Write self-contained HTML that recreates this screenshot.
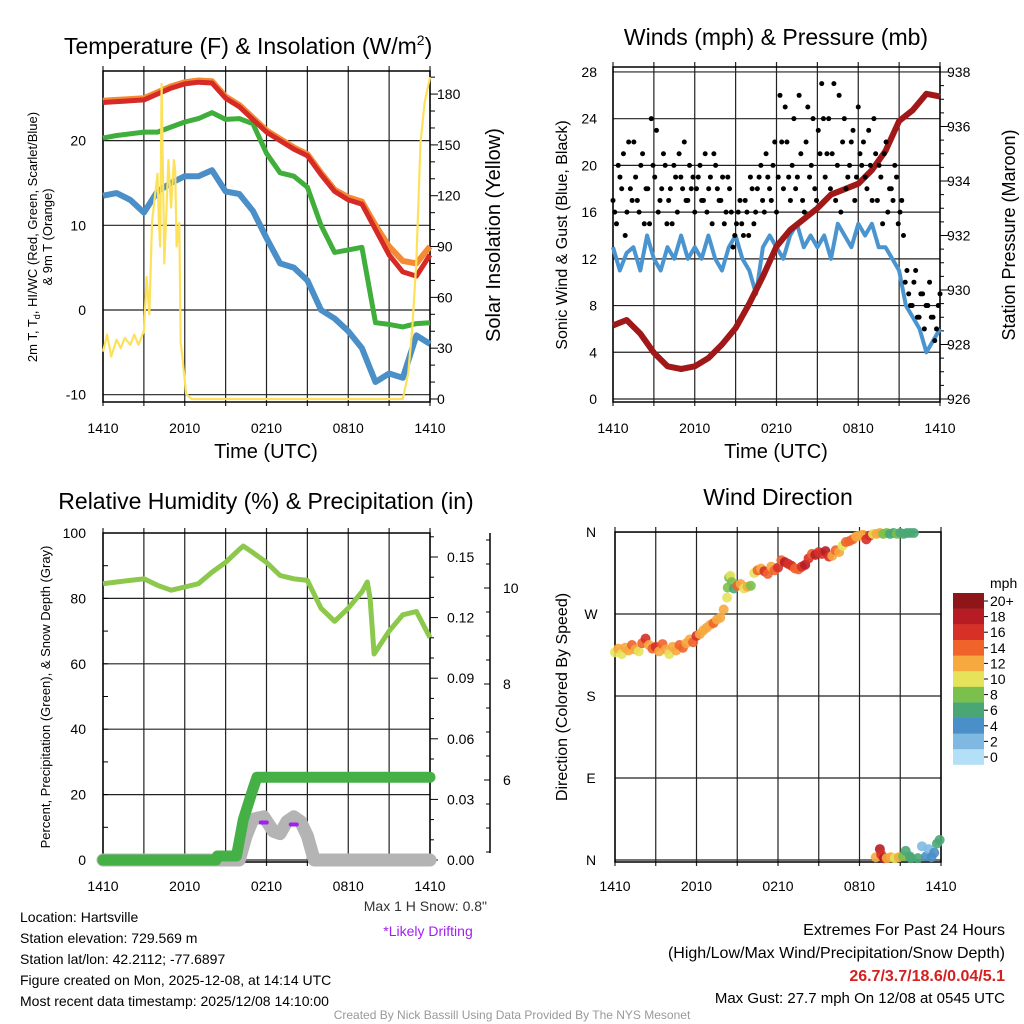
<!DOCTYPE html>
<html><head><meta charset="utf-8"><style>
body{margin:0;background:#fff}
svg{display:block;font-family:"Liberation Sans",sans-serif}
</style></head><body>
<svg id="c" width="1024" height="1024" viewBox="0 0 1024 1024"></svg>
<script>
// ---------- DATA ----------
const hours=[0,1,2,3,4,5,6,7,8,9,10,11,12,13,14,15,16,17,18,19,20,21,22,23,24];
const tempRed=[24.5,24.6,24.7,24.8,25.5,26.2,26.7,26.9,26.8,25,24,22.5,21,20,19,18.2,16,14,13,12.5,9.5,6.5,4.5,4,6.5];
const tempOrange=[24.7,24.8,24.9,25,25.7,26.4,26.9,27.1,27,25.2,24.2,22.7,21.2,20.2,19.2,18.4,16.2,14.2,13.3,12.8,10,7.5,5.8,5.5,7.5];
const hiwcGreen=[20.3,20.6,20.8,21,21,21.6,22.2,22.6,23.3,22.5,22.6,22,18.5,16.2,15.8,14.5,10,6.8,7.1,7.4,-1.5,-1.7,-2,-1.6,-1.5];
const dewBlue=[13.5,13.8,13,11.5,14,15,15.8,15.8,16.5,14,13.7,11.7,8.5,5.5,5,3.5,0,-1,-2.5,-4.5,-8.5,-7.5,-8,-3,-4];
const solarT=[0,0.3,0.6,1,1.3,1.6,2,2.3,2.6,3,3.2,3.4,3.6,4,4.1,4.2,4.3,4.5,4.8,5,5.2,5.3,5.4,5.6,5.7,5.8,6.1,6.5,22,22.4,22.7,23,23.3,23.6,24];
const solarV=[28,38,25,35,30,36,32,38,32,40,72,50,105,133,104,90,186,80,141,113,141,135,90,104,33,27,3,0,0,15,42,82,151,175,190];
const windT=[0,0.5,1,1.5,2,2.5,3,3.5,4,4.5,5,5.5,6,6.5,7,7.5,8,8.5,9,9.5,10,10.5,11,11.5,12,12.5,13,13.5,14,14.5,15,15.5,16,16.5,17,17.5,18,18.5,19,19.5,20,20.5,21,21.5,22,22.5,23,23.5,24];
const windV=[13,11,12.5,13,11,14,12,11,13,12,14,12,13,12,14,12,11,13,14,12,11,9,13,14,13,12,14,15,13,14,13,14,12,15,14,13,15,14,15,13,13,12,11,8,7,6,4,5,6];
const gustV=[17,15,19,21,16,18,22,17,20,15,18,24,19,16,18,20,17,15,19,21,18,17,20,19,18,20,17,16,19,21,18,17,15,19,16,14,16,15,17,14,18,16,19,17,21,18,20,16,26,18,22,17,24,19,21,16,25,20,18,23,27,19,24,21,17,26,22,18,20,23,19,21,22,18,20,24,17,19,21,16,18,20,15,17,10,9,8,11,7,9,8,10,7,6,9];
const gustV2=[16,20,18,14,22,17,19,16,21,18,15,20,23,17,21,15,18,20,16,19,22,17,18,16,19,17,21,18,15,20,17,19,16,18,13,15,17,14,16,19,15,18,20,16,19,17,22,19,22,25,19,20,18,26,17,22,19,24,17,21,24,21,18,27,20,16,24,19,22,17,25,20,19,23,17,21,20,15,22,18,17,19,16,14,11,8,10,7,9,6,8,7,5,8];
const presV=[928.7,928.9,928.4,927.7,927.2,927.1,927.2,927.5,928,928.6,929.5,930.5,931.6,932.2,932.6,933,933.5,933.7,933.9,934.4,935.1,936.2,936.6,937.2,937.1];
const rhT=[0,1,2,3,4,5,6,7,8,9,10,10.3,11,12,13,14,15,16,17,18,19,19.4,19.6,19.9,21,22,23,24];
const rhV=[84.5,85,85.5,86,84,82.5,83.5,84.5,88,91,95,96,94,91,87,86,85.5,77,73,77,82,85,80,63,70,75,76,68];
const precipT=[0,8.3,8.4,9.8,10.3,11.0,11.3,24];
const precipV=[0,0,0.002,0.002,0.02,0.035,0.041,0.041];
const snowT=[0,10,10.5,11,11.8,12.5,13,13.5,14,14.5,15,15.5,24];
const snowV=[0,0,0.5,0.85,0.9,0.6,0.55,0.8,0.9,0.8,0.5,0,0];
const driftT=[11.8,14];
const driftV=[0.78,0.74];
const dirT=[0,0.25,0.5,0.75,1,1.25,1.5,1.75,2,2.25,2.5,2.75,3,3.25,3.5,3.75,4,4.25,4.5,4.75,5,5.25,5.5,5.75,6,6.25,6.5,6.75,7,7.25,7.5,7.75,8,8.25,8.3,8.4,8.5,8.6,8.75,9,9.25,9.5,9.75,10,10.25,10.5,10.75,11,11.25,11.5,11.75,12,12.25,12.5,12.75,13,13.25,13.5,13.75,14,14.25,14.5,14.75,15,15.25,15.5,15.75,16,16.25,16.5,16.75,17,17.25,17.5,17.75,18,18.25,18.5,18.75,19,19.25,19.5,19.75,20,20.25,20.5,20.75,21,21.25,21.5,21.75,22,19.2,19.5,19.6,19.8,20,20.3,20.6,20.9,21.2,21.4,21.7,21.8,22.3,22.6,22.9,23.1,23.3,23.5,23.7,23.9];
const dirV=[228,232,226,233,230,236,231,229,238,243,236,232,234,229,237,231,226,234,230,236,233,238,242,239,246,248,252,255,258,260,264,266,275,288,299,310,312,305,298,301,303,298,300,301,315,318,320,317,314,322,318,321,329,327,325,323,320,319,322,324,331,336,335,338,336,339,333,334,340,338,345,349,350,352,355,356,357,352,356,358,358,359,358,359,358,359,358,359,358,359,359,359,3,12,6,2,2,3,2,3,4,10,4,2,2,15,4,12,3,8,18,22];
const dirS=[10,12,11,13,12,14,12,10,15,16,13,14,16,12,15,12,11,12,13,14,15,12,13,14,16,12,12,13,12,14,12,12,12,10,8,9,10,9,7,14,12,10,12,9,11,15,12,16,15,12,14,17,14,18,16,17,15,14,16,19,17,15,18,17,16,18,16,12,14,13,11,15,14,15,12,13,12,17,16,11,12,12,9,8,7,7,8,6,6,6,6,7,13,18,16,18,12,12,11,13,8,7,6,6,6,3,4,3,4,4,6,6];
const cbColors=["#b3e0f7","#7fb9e2","#4a8fc7","#4aa775","#7bc04c","#e6e25a","#f6a93f","#f0632b","#d63027","#b71c25","#8e1518"];
const cbLabels=["0","2","4","6","8","10","12","14","16","18","20+"];
const xLabels=["1410","2010","0210","0810","1410"];
const dirLabels=["N","E","S","W","N"];

// ---------- HELPERS ----------
const svg=document.getElementById('c');
const NS='http://www.w3.org/2000/svg';
function el(tag,attrs,parent){const e=document.createElementNS(NS,tag);for(const k in attrs)e.setAttribute(k,attrs[k]);(parent||svg).appendChild(e);return e;}
function txt(s,x,y,size,anchor,parent,extra){const t=el('text',Object.assign({x:x,y:y,'font-size':size,'text-anchor':anchor||'middle',fill:'#000'},extra||{}),parent);t.textContent=s;return t;}
function poly(xs,ys,fx,fy){return xs.map((v,i)=>fx(v).toFixed(1)+','+fy(ys[i]).toFixed(1)).join(' ');}
function grid(g,x0,x1,top,bot,fx,hy){
  for(let h=0;h<=24;h+=3){el('line',{x1:fx(h),x2:fx(h),y1:top-5,y2:bot+4,stroke:'#222','stroke-width':1.2},g);}
  hy.forEach(y=>el('line',{x1:x0,x2:x1,y1:y,y2:y,stroke:'#222','stroke-width':1.2},g));
  el('rect',{x:x0,y:top,width:x1-x0,height:bot-top,fill:'none',stroke:'#000','stroke-width':1.5},g);
}

// ---------- PANEL 1: Temperature ----------
{
const g=el('g',{});  
const x0=103,x1=430,top=71,bot=402;
const fx=h=>x0+h*(x1-x0)/24, fy=v=>310-v*8.47, fs=v=>399-v*1.694;
grid(g,x0,x1,top,bot,fx,[20,10,0,-10].map(fy));
[20,10,0,-10].forEach(v=>{const t=txt(String(v),86,fy(v)+5,14,'end',g);});
for(let v=0;v<=190;v+=10){el('line',{x1:x1,x2:x1+(v%30==0?8:5),y1:fs(v),y2:fs(v),stroke:'#000'},g);}
[0,30,60,90,120,150,180].forEach(v=>{const t=txt(String(v),437,fs(v)+5,14,'start',g);});
xLabels.forEach((s,i)=>{const t=txt(s,fx(i*6),433,14,'middle',g);});
const l1=el('polyline',{points:poly(hours,dewBlue,fx,fy),fill:'none',stroke:'#4a8fc7','stroke-width':6,'stroke-linejoin':'round'},g);
const l2=el('polyline',{points:poly(hours,hiwcGreen,fx,fy),fill:'none',stroke:'#3fae3a','stroke-width':5,'stroke-linejoin':'round'},g);
const l3=el('polyline',{points:poly(hours,tempOrange,fx,fy),fill:'none',stroke:'#f58a34','stroke-width':6,'stroke-linejoin':'round'},g);
const l4=el('polyline',{points:poly(hours,tempRed,fx,fy),fill:'none',stroke:'#d52a25','stroke-width':5,'stroke-linejoin':'round'},g);
const l5=el('polyline',{points:poly(solarT,solarV,fx,fs),fill:'none',stroke:'#fde15a','stroke-width':2.2,'stroke-linejoin':'round'},g);
}
// ---------- PANEL 2: Winds ----------
{
const g=el('g',{});  
const x0=613,x1=940,top=67,bot=402;
const fx=h=>x0+h*(x1-x0)/24, fy=v=>399-v*11.68, fp=p=>399-(p-926)*27.25;
grid(g,x0,x1,top,bot,fx,[0,4,8,12,16,20,24,28].map(fy));
[0,4,8,12,16,20,24,28].forEach(v=>{const t=txt(String(v),597,fy(v)+5,14,'end',g);});
for(let p=926;p<=938;p+=0.5){el('line',{x1:x1,x2:x1+(p%2==0?8:4),y1:fp(p),y2:fp(p),stroke:'#000'},g);}
[926,928,930,932,934,936,938].forEach(p=>{const t=txt(String(p),947,fp(p)+5,14,'start',g);});
xLabels.forEach((s,i)=>{const t=txt(s,fx(i*6),433,14,'middle',g);});
const w=el('polyline',{points:poly(windT,windV,fx,fy),fill:'none',stroke:'#4a95d0','stroke-width':4,'stroke-linejoin':'round'},g);
const p=el('polyline',{points:poly(hours,presV,fx,fp),fill:'none',stroke:'#a01818','stroke-width':6,'stroke-linejoin':'round'},g);
gustV.forEach((v,i)=>{const c=el('circle',{cx:fx(i*24/(gustV.length-1)),cy:fy(v),r:2.5,fill:'#000'},g);});
gustV2.forEach((v,i)=>{const c=el('circle',{cx:fx((i+0.5)*24/(gustV.length-1)),cy:fy(v),r:2.5,fill:'#000'},g);});
}
// ---------- PANEL 3: RH ----------
{
const g=el('g',{});  
const x0=103,x1=430,top=533,bot=862;
const fx=h=>x0+h*(x1-x0)/24, fy=v=>860-v*3.27, fpr=v=>860-v*2020, fsn=v=>860-v*48;
grid(g,x0,x1,top,bot,fx,[0,20,40,60,80].map(fy));
for(let v=0;v<=100;v+=10)el('line',{x1:x0,x2:x0+5,y1:fy(v),y2:fy(v),stroke:'#000'},g);
[0,20,40,60,80,100].forEach(v=>{const t=txt(String(v),86,fy(v)+5,14,'end',g);});
for(let v=0;v<=0.16;v+=0.01)el('line',{x1:x1,x2:x1+(Math.round(v*100)%3==0?8:4),y1:fpr(v),y2:fpr(v),stroke:'#000'},g);
["0.00","0.03","0.06","0.09","0.12","0.15"].forEach(s=>{const t=txt(s,447,fpr(+s)+5,14,'start',g);});
el('line',{x1:490,x2:490,y1:533,y2:853,stroke:'#000','stroke-width':1.5},g);
for(let y=540;y<=852;y+=24)el('line',{x1:490,x2:486,y1:y,y2:y,stroke:'#000'},g);
[[6,780],[8,684],[10,588]].forEach(a=>{el('line',{x1:490,x2:484,y1:a[1],y2:a[1],stroke:'#000'},g);const t=txt(String(a[0]),503,a[1]+5,14,'start',g);});
xLabels.forEach((s,i)=>{const t=txt(s,fx(i*6),891,14,'middle',g);});
const sn=el('polyline',{points:poly(snowT,snowV,fx,fsn),fill:'none',stroke:'#b4b4b4','stroke-width':13,'stroke-linejoin':'round','stroke-linecap':'round'},g);
const pr=el('polyline',{points:poly(precipT,precipV,fx,fpr),fill:'none',stroke:'#45b046','stroke-width':11,'stroke-linejoin':'round','stroke-linecap':'round'},g);
driftT.forEach((t,i)=>{const d=el('line',{x1:fx(t)-3,x2:fx(t)+3,y1:fsn(driftV[i]),y2:fsn(driftV[i]),stroke:'#a020f0','stroke-width':4,'stroke-linecap':'round'},g);});
const rh=el('polyline',{points:poly(rhT,rhV,fx,fy),fill:'none',stroke:'#8cc84b','stroke-width':5,'stroke-linejoin':'round'},g);
}
// ---------- PANEL 4: Wind direction ----------
{
const g=el('g',{});  
const x0=615,x1=941,top=532,bot=862;
const fx=h=>x0+h*(x1-x0)/24, fy=d=>860-d*0.911;
grid(g,x0,x1,top,bot,fx,[0,90,180,270,360].map(fy));
dirLabels.forEach((s,i)=>{const t=txt(s,591,fy(i*90)+5,14,'middle',g);});
xLabels.forEach((s,i)=>{const t=txt(s,fx(i*6),891,14,'middle',g);});
dirT.forEach((t,i)=>{const c=el('circle',{cx:fx(t),cy:fy(dirV[i]),r:5,fill:cbColors[Math.min(10,Math.floor(dirS[i]/2))],'fill-opacity':0.9},g);});
const cb=el('g',{},g);
cbColors.forEach((c,i)=>{const y=593+(10-i)*15.6;el('rect',{x:953,y:y,width:31,height:15.8,fill:c},cb);el('line',{x1:984,x2:988,y1:y+8,y2:y+8,stroke:'#000'},cb);txt(cbLabels[i],990,y+13,14,'start',cb);});
txt('mph',990,588,14,'start',cb);
}
// ---------- TEXT ----------
function T(s,x,y,size,anchor,name,extra){const t=txt(s,x,y,size,anchor,svg,extra);return t;}
const t1=T('Temperature (F) & Insolation (W/m',64,54,23,'start','temp-title');const sup=document.createElementNS(NS,'tspan');sup.setAttribute('dy','-9');sup.setAttribute('font-size','14');sup.textContent='2';t1.appendChild(sup);const cl=document.createElementNS(NS,'tspan');cl.setAttribute('dy','9');cl.textContent=')';t1.appendChild(cl);
T('Winds (mph) & Pressure (mb)',776,45,23,'middle','winds-title');
T('Relative Humidity (%) & Precipitation (in)',266,509,23,'middle','humidity-title');
T('Wind Direction',778,505,23,'middle','direction-title');
T('Time (UTC)',266,458,20,'middle','x-axis-title');
T('Time (UTC)',776,458,20,'middle','x-axis-title-2');
const ya=T('2m T, T',0,0,13,'middle','temp-y-title',{transform:'translate(37,237) rotate(-90)'});ya.innerHTML='2m T, T<tspan font-size="9" dy="3">d</tspan><tspan dy="-3">, HI/WC (Red, Green, Scarlet/Blue)</tspan>';
T('& 9m T (Orange)',0,0,13,'middle','temp-y-title-2',{transform:'translate(52,237) rotate(-90)'});
T('Solar Insolation (Yellow)',0,0,20,'middle','solar-y-title',{transform:'translate(500,235) rotate(-90)'});
T('Sonic Wind & Gust (Blue, Black)',0,0,16,'middle','wind-y-title',{transform:'translate(567,235) rotate(-90)'});
T('Station Pressure (Maroon)',0,0,18,'middle','pressure-y-title',{transform:'translate(1015,235) rotate(-90)'});
T('Percent, Precipitation (Green), & Snow Depth (Gray)',0,0,13,'middle','rh-y-title',{transform:'translate(50,697) rotate(-90)'});
T('Direction (Colored By Speed)',0,0,16,'middle','direction-y-title',{transform:'translate(567,697) rotate(-90)'});
T('Max 1 H Snow: 0.8"',487,911,14,'end','max-snow-note',{fill:'#333'});
T('*Likely Drifting',428,936,14,'middle','drifting-note',{fill:'#a020f0'});
['Location: Hartsville','Station elevation: 729.569 m','Station lat/lon: 42.2112; -77.6897','Figure created on Mon, 2025-12-08, at 14:14 UTC','Most recent data timestamp: 2025/12/08 14:10:00'].forEach((s,i)=>T(s,20,922+i*21,14,'start','station-info-line'));
T('Extremes For Past 24 Hours',1005,935,16,'end','extremes-title');
T('(High/Low/Max Wind/Precipitation/Snow Depth)',1005,958,16,'end','extremes-subtitle');
T('26.7/3.7/18.6/0.04/5.1',1005,981,16,'end','extremes-values',{fill:'#d42020','font-weight':'bold'});
T('Max Gust: 27.7 mph On 12/08 at 0545 UTC',1005,1003,15,'end','max-gust');
T('Created By Nick Bassill Using Data Provided By The NYS Mesonet',512,1019,12,'middle','credits',{fill:'#999'});
</script>
</body></html>
